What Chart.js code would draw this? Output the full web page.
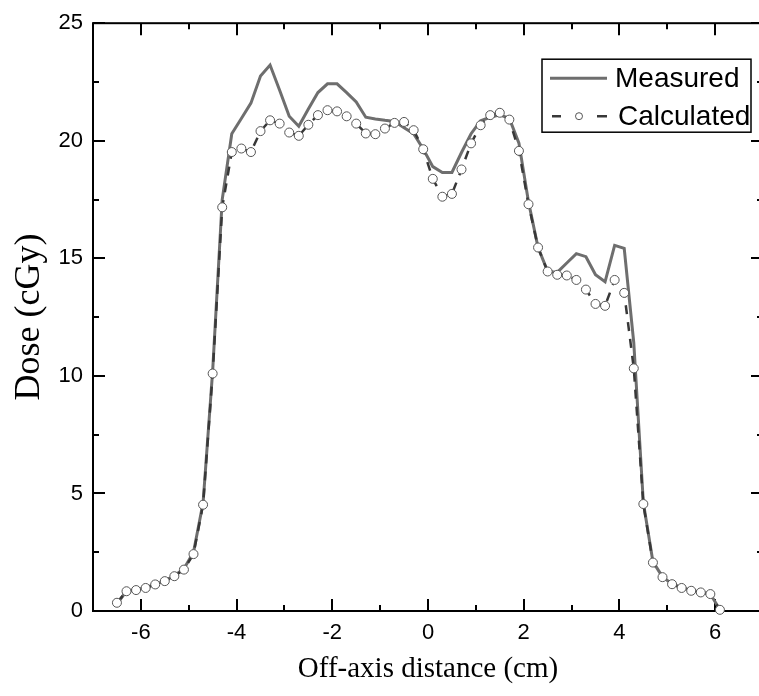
<!DOCTYPE html>
<html>
<head>
<meta charset="utf-8">
<script src="https://cdn.jsdelivr.net/npm/chart.js@4.4.1/dist/chart.umd.min.js"></script>
<style>
  html, body { margin: 0; padding: 0; background: #fff; overflow: hidden; }
  #wrap { width: 770px; height: 696px; }
</style>
</head>
<body>
<div id="wrap"><canvas id="doseChart" width="770" height="696"></canvas></div>
<script>
// off-axis positions (cm), shared by both profiles
const offAxis = [-6.5, -6.3, -6.1, -5.9, -5.7, -5.5, -5.3, -5.1, -4.9, -4.7, -4.5, -4.3, -4.1, -3.9, -3.7, -3.5,
  -3.3, -3.1, -2.9, -2.7, -2.5, -2.3, -2.1, -1.9, -1.7, -1.5, -1.3, -1.1, -0.9, -0.7, -0.5, -0.3,
  -0.1, 0.1, 0.3, 0.5, 0.7, 0.9, 1.1, 1.3, 1.5, 1.7, 1.9, 2.1, 2.3, 2.5, 2.7, 2.9,
  3.1, 3.3, 3.5, 3.7, 3.9, 4.1, 4.3, 4.5, 4.7, 4.9, 5.1, 5.3, 5.5, 5.7, 5.9, 6.1];

const measured = [0.30, 0.85, 0.90, 1.00, 1.13, 1.28, 1.50, 1.80, 2.50, 4.60, 10.20, 17.50, 20.30, 20.95, 21.60, 22.75,
  23.22, 22.15, 21.04, 20.62, 21.35, 22.05, 22.42, 22.42, 22.05, 21.65, 21.00, 20.93, 20.87, 20.82, 20.55, 20.30,
  19.65, 18.90, 18.65, 18.65, 19.50, 20.30, 20.85, 21.00, 21.10, 20.95, 19.90, 17.40, 15.46, 14.45, 14.40, 14.80,
  15.20, 15.07, 14.30, 14.00, 15.55, 15.42, 11.40, 4.60, 2.10, 1.45, 1.15, 1.00, 0.88, 0.80, 0.72, 0.05];

const calculated = [0.35, 0.84, 0.89, 0.98, 1.13, 1.27, 1.48, 1.76, 2.42, 4.52, 10.10, 17.17, 19.52, 19.67, 19.52, 20.41,
  20.87, 20.73, 20.35, 20.21, 20.68, 21.09, 21.30, 21.25, 21.04, 20.73, 20.31, 20.28, 20.52, 20.76, 20.80, 20.45,
  19.64, 18.38, 17.62, 17.74, 18.78, 19.89, 20.66, 21.09, 21.19, 20.90, 19.57, 17.30, 15.46, 14.44, 14.30, 14.27,
  14.08, 13.67, 13.06, 12.98, 14.08, 13.53, 10.32, 4.55, 2.06, 1.44, 1.14, 0.98, 0.86, 0.79, 0.72, 0.05];

const xTickValues = [-6, -4, -2, 0, 2, 4, 6];
const yTickValues = [0, 5, 10, 15, 20, 25];

const MEAS_COLOR = '#6e6e6e';
const CALC_COLOR = '#383838';

// frame with inward ticks on all four sides (Origin style)
const framePlugin = {
  id: 'frame',
  beforeDatasetsDraw(chart) {
    const { ctx, chartArea: a, scales: { x, y } } = chart;
    ctx.save();
    ctx.strokeStyle = '#000';
    ctx.lineWidth = 2;
    ctx.strokeRect(a.left, a.top, a.right - a.left, a.bottom - a.top);

    const xMinor = [];
    xTickValues.forEach(v => { xMinor.push(v - 1); xMinor.push(v + 1); });
    const yMinor = [];
    yTickValues.forEach(v => { yMinor.push(v - 2.5); yMinor.push(v + 2.5); });

    ctx.beginPath();
    x.ticks.forEach(t => {
      const px = Math.round(x.getPixelForValue(t.value));
      ctx.moveTo(px, a.bottom); ctx.lineTo(px, a.bottom - 12);
      ctx.moveTo(px, a.top); ctx.lineTo(px, a.top + 12);
    });
    xMinor.filter(v => v > x.min && v < x.max).forEach(v => {
      const px = Math.round(x.getPixelForValue(v));
      ctx.moveTo(px, a.bottom); ctx.lineTo(px, a.bottom - 6);
      ctx.moveTo(px, a.top); ctx.lineTo(px, a.top + 6);
    });
    y.ticks.forEach(t => {
      const py = Math.round(y.getPixelForValue(t.value));
      ctx.moveTo(a.left, py); ctx.lineTo(a.left + 12, py);
      ctx.moveTo(a.right, py); ctx.lineTo(a.right - 12, py);
    });
    yMinor.filter(v => v > y.min && v < y.max).forEach(v => {
      const py = Math.round(y.getPixelForValue(v));
      ctx.moveTo(a.left, py); ctx.lineTo(a.left + 6, py);
      ctx.moveTo(a.right, py); ctx.lineTo(a.right - 6, py);
    });
    ctx.stroke();
    ctx.restore();
  }
};

// boxed legend in the upper right corner
const legendPlugin = {
  id: 'boxLegend',
  afterDraw(chart) {
    const { ctx, chartArea: a } = chart;
    const left = a.right - 221, top = a.top + 36, w = 209, h = 73;
    ctx.save();
    ctx.fillStyle = '#fff';
    ctx.fillRect(left, top, w, h);
    ctx.strokeStyle = '#000';
    ctx.lineWidth = 1.5;
    ctx.strokeRect(left, top, w, h);

    const row1 = top + 19, row2 = top + 57;
    ctx.strokeStyle = MEAS_COLOR;
    ctx.lineWidth = 3;
    ctx.beginPath();
    ctx.moveTo(left + 8, row1); ctx.lineTo(left + 65, row1);
    ctx.stroke();

    ctx.strokeStyle = CALC_COLOR;
    ctx.lineWidth = 2.5;
    ctx.beginPath();
    ctx.moveTo(left + 10, row2); ctx.lineTo(left + 19, row2);
    ctx.moveTo(left + 55, row2); ctx.lineTo(left + 65, row2);
    ctx.stroke();
    ctx.beginPath();
    ctx.arc(left + 37, row2, 3.5, 0, Math.PI * 2);
    ctx.fillStyle = '#fff';
    ctx.fill();
    ctx.strokeStyle = '#555';
    ctx.lineWidth = 1;
    ctx.stroke();

    ctx.fillStyle = '#000';
    ctx.font = '28px "Liberation Sans", Arial, sans-serif';
    ctx.textBaseline = 'middle';
    ctx.fillText('Measured', left + 73, row1 + 1);
    ctx.fillText('Calculated', left + 76, row2 + 1);
    ctx.restore();
  }
};

new Chart(document.getElementById('doseChart'), {
  type: 'line',
  data: {
    datasets: [
      {
        label: 'Calculated',
        data: offAxis.map((v, i) => ({ x: v, y: calculated[i] })),
        borderColor: CALC_COLOR,
        borderWidth: 2.5,
        borderDash: [9, 8],
        pointRadius: 4.5,
        pointBackgroundColor: '#fff',
        pointBorderColor: '#555',
        pointBorderWidth: 1,
        tension: 0,
        clip: 8,
        order: 0
      },
      {
        label: 'Measured',
        data: offAxis.map((v, i) => ({ x: v, y: measured[i] })),
        borderColor: MEAS_COLOR,
        borderWidth: 3,
        pointRadius: 0,
        tension: 0,
        clip: 8,
        order: 1
      }
    ]
  },
  options: {
    responsive: false,
    animation: false,
    devicePixelRatio: 1,
    layout: { padding: { top: 19, right: 7, bottom: 0, left: 0 } },
    plugins: { legend: { display: false }, tooltip: { enabled: false } },
    scales: {
      x: {
        type: 'linear',
        min: -7,
        max: 7,
        afterBuildTicks: s => { s.ticks = xTickValues.map(v => ({ value: v })); },
        afterFit: s => { s.height = 85; },
        grid: { display: false, drawTicks: false },
        border: { display: false },
        ticks: {
          padding: 9,
          color: '#000',
          font: { family: '"Liberation Sans", Arial, sans-serif', size: 22 },
          callback: v => String(v)
        },
        title: {
          display: true,
          text: 'Off-axis distance (cm)',
          color: '#000',
          font: { family: '"Liberation Serif", "Times New Roman", serif', size: 29 },
          padding: { top: 0, bottom: 9 }
        }
      },
      y: {
        type: 'linear',
        min: 0,
        max: 25,
        afterBuildTicks: s => { s.ticks = yTickValues.map(v => ({ value: v })); },
        afterFit: s => { s.width = 93; },
        grid: { display: false, drawTicks: false },
        border: { display: false },
        ticks: {
          padding: 10,
          color: '#000',
          font: { family: '"Liberation Sans", Arial, sans-serif', size: 22 },
          callback: v => String(v)
        },
        title: {
          display: true,
          text: 'Dose (cGy)',
          color: '#000',
          font: { family: '"Liberation Serif", "Times New Roman", serif', size: 36 },
          padding: { top: 8, bottom: 0 }
        }
      }
    }
  },
  plugins: [framePlugin, legendPlugin]
});
</script>
</body>
</html>
